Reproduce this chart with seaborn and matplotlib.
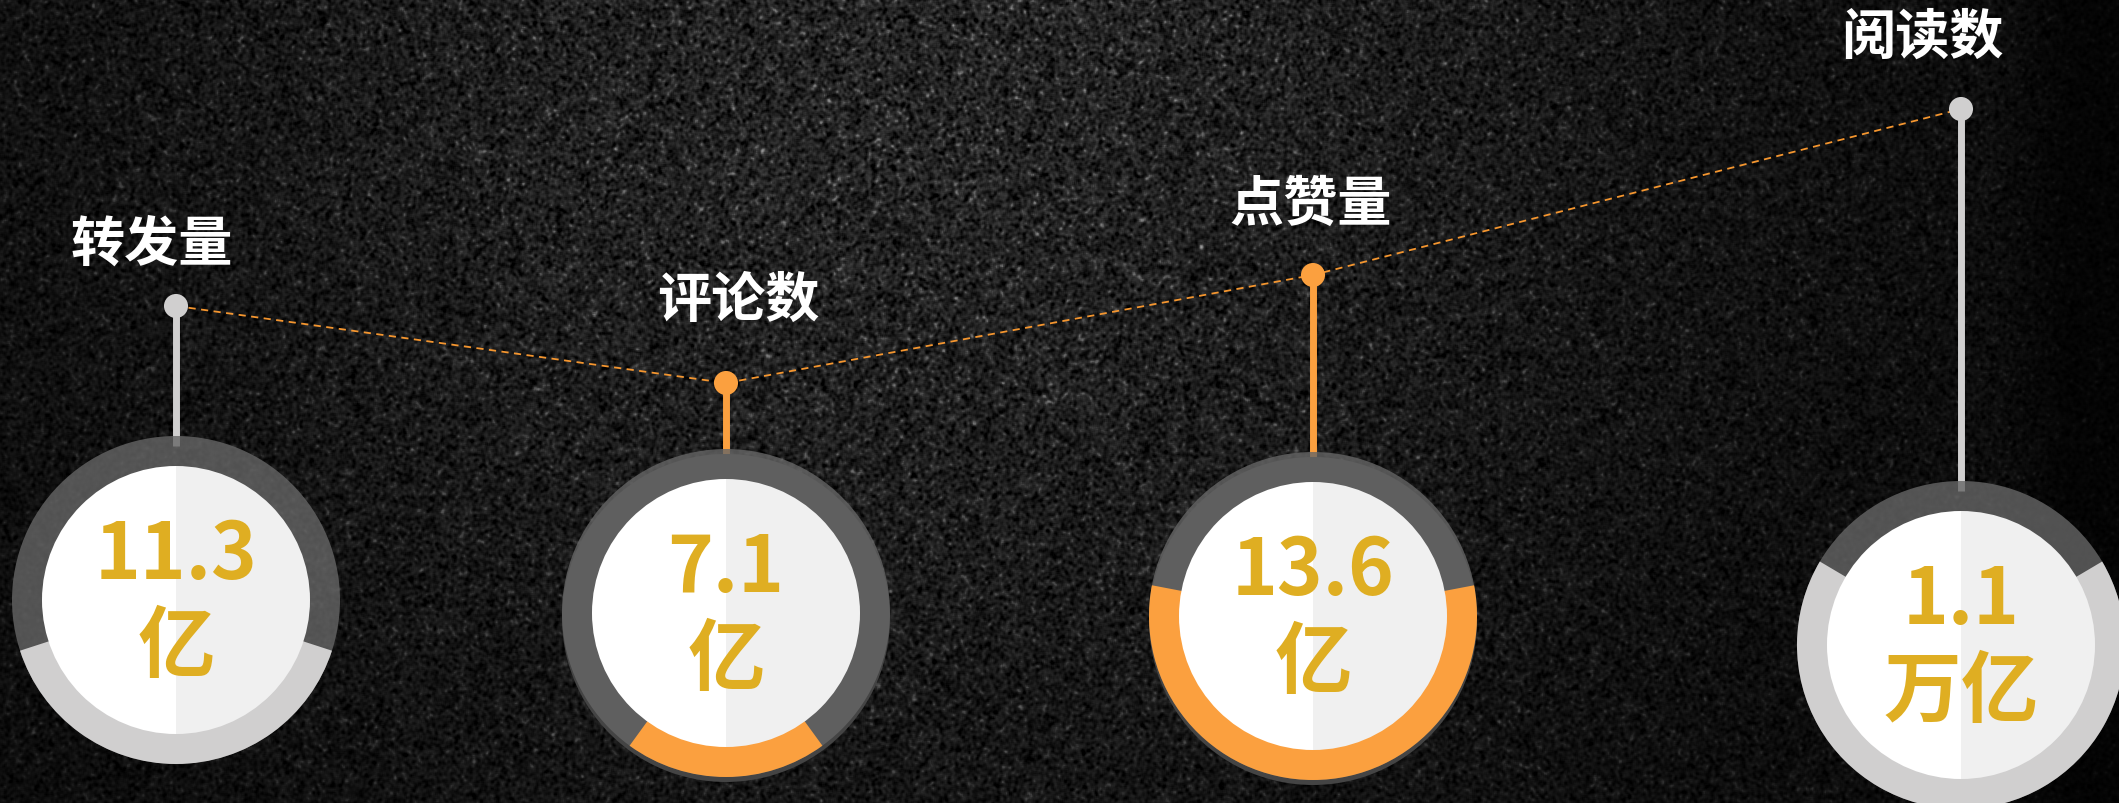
import numpy as np
import matplotlib
matplotlib.use("Agg")
import matplotlib.pyplot as plt
from matplotlib.patches import Wedge, Circle
import pandas as pd
import seaborn as sns

# ---- data -------------------------------------------------------------
metrics = ["转发量", "评论数", "点赞量", "阅读数"]
value_labels = ["11.3", "7.1", "13.6", "1.1"]
unit_labels = ["亿", "亿", "亿", "万亿"]
ring_share = [0.40, 0.20, 0.56, 0.67]
highlight = [False, True, True, False]

# ---- layout (pixels, measured from the top-left corner) ---------------
W, H = 2119, 804
card_x = [176, 726, 1313, 1961]
card_y = [601, 614, 617, 646]
pin_y = [307, 384, 276, 110]
title_x = [152, 738, 1311, 1922]
title_y = [245, 301, 205, 38]
R_OUT, R_IN = 164, 134

ORANGE = "#FBA03F"
LIGHT = "#D0CFCF"
GOLD = "#DFAE22"

sns.set_theme(style="white")
plt.rcParams["font.family"] = ["Noto Sans CJK SC", "DejaVu Sans"]

fig = plt.figure(figsize=(W / 100, H / 100), dpi=100)
ax = fig.add_axes([0, 0, 1, 1])
ax.set_xlim(0, W)
ax.set_ylim(0, H)
ax.axis("off")


def fy(y):
    return H - y


def soften(a, kernel):
    k = np.asarray(kernel, float)
    k /= k.sum()
    a = np.apply_along_axis(lambda r: np.convolve(r, k, mode="same"), 1, a)
    a = np.apply_along_axis(lambda c: np.convolve(c, k, mode="same"), 0, a)
    return a


# ---- grainy dark backdrop ---------------------------------------------
rng = np.random.default_rng(11)
yy, xx = np.mgrid[0:H, 0:W]
xn, yn = xx / W, yy / H
glow = np.exp(-((xn - 0.43) / 0.38) ** 2 - (yn / 1.1) ** 2)
base = 0.035 + 0.11 * glow
base *= np.clip((1.0 - xn) / 0.06, 0.4, 1.0)

n = soften(rng.standard_normal((H, W)), [1, 2, 3, 2, 1])
n /= n.std()
img = base * (1.0 + 0.42 * n) + 0.12 * base * np.clip(n - 1.6, 0, None) * 4
img = np.clip(img, 0, 1)
ax.imshow(img, extent=(0, W, 0, H), origin="upper", cmap="gray", vmin=0, vmax=1,
          interpolation="nearest", aspect="auto", zorder=0)

# ---- dashed trend line and pins ---------------------------------------
pins = pd.DataFrame({"x": card_x, "y": [fy(v) for v in pin_y],
                     "kind": ["hi" if h else "lo" for h in highlight]})
sns.lineplot(data=pins, x="x", y="y", ax=ax, color="#F5962F", linewidth=1.3,
             linestyle=(0, (4, 3)), zorder=2, sort=False)

for i in range(len(metrics)):
    accent = ORANGE if highlight[i] else LIGHT
    ax.vlines(card_x[i], fy(card_y[i] - R_OUT + 10), fy(pin_y[i]), color=accent,
              linewidth=5, zorder=2.5)

sns.scatterplot(data=pins, x="x", y="y", hue="kind", palette={"hi": ORANGE, "lo": LIGHT},
                s=300, linewidth=0, legend=False, ax=ax, zorder=3)

# ---- ring cards ---------------------------------------------------------
for i in range(len(metrics)):
    cx, cy = card_x[i], fy(card_y[i])
    accent = ORANGE if highlight[i] else LIGHT
    if highlight[i]:
        ax.add_patch(Circle((cx, cy - 5), R_OUT, facecolor="#444444", linewidth=0, zorder=3.5))
    ax.add_patch(Circle((cx, cy), R_OUT, facecolor="#666666", alpha=0.8, linewidth=0, zorder=4))
    span = ring_share[i] * 360
    ax.add_patch(Wedge((cx, cy), R_OUT, -90 - span / 2, -90 + span / 2,
                       width=R_OUT - R_IN + 1, facecolor=accent, linewidth=0, zorder=5))
    ax.add_patch(Wedge((cx, cy), R_IN, 90, 270, facecolor="white", linewidth=0, zorder=6))
    ax.add_patch(Wedge((cx, cy), R_IN, -90, 90, facecolor="#F0F0F0", linewidth=0, zorder=6))

    ax.text(cx, cy + 45, value_labels[i], color=GOLD, fontsize=56, fontweight="bold",
            ha="center", va="center", zorder=7)
    ax.text(cx, cy - 47, unit_labels[i], color=GOLD, fontsize=56, fontweight="bold",
            ha="center", va="center", zorder=7)

    ax.text(title_x[i], fy(title_y[i]), metrics[i], color="white", fontsize=39,
            fontweight="bold", ha="center", va="center", zorder=7)

fig.savefig("out.png", dpi=100)
